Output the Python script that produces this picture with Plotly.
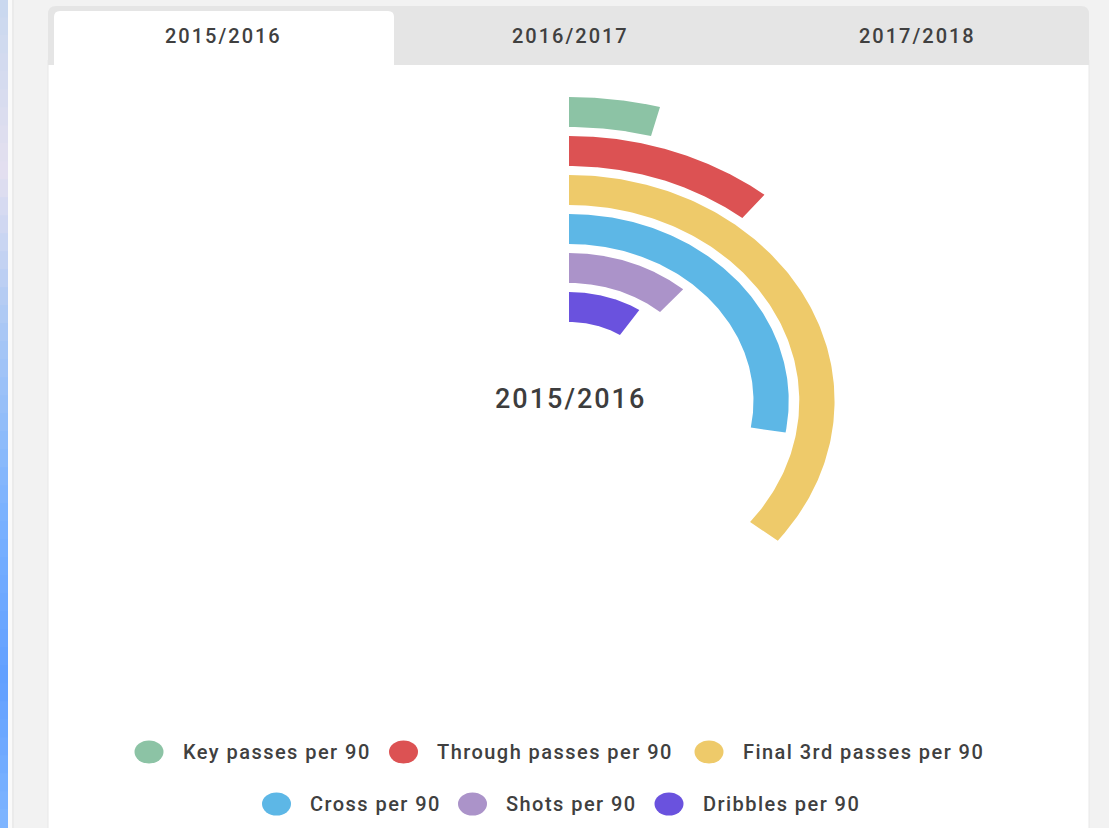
import numpy as np
import plotly.graph_objects as go

W, H = 1109, 828

# ---- data -------------------------------------------------------------
metrics = [
    "Key passes per 90",
    "Through passes per 90",
    "Final 3rd passes per 90",
    "Cross per 90",
    "Shots per 90",
    "Dribbles per 90",
]
# length of each radial bar, as a percentage of a full turn
arc_share = [4.1, 10.8, 35.6, 27.7, 11.4, 9.25]
colors = ["#8cc3a5", "#dc5253", "#eeca6a", "#5db7e6", "#ab93c9", "#6a52de"]
seasons = ["2015/2016", "2016/2017", "2017/2018"]
active_season = "2015/2016"

# ---- geometry / styling -----------------------------------------------
CX, CY = 569, 401          # centre of the rings (px)
X_STRETCH = 1.175          # horizontal stretch of the radial chart
OUTER_R = 304              # outer radius of the first ring (px)
RING_W, RING_STEP = 30, 39
FONT = "Roboto"
TEXT_COL = "#404040"


def spaced(text, px_gap):
    return f"<span style='letter-spacing:{px_gap}px'>{text}</span>"


fig = go.Figure()

for k, (name, share, col) in enumerate(zip(metrics, arc_share, colors)):
    r_out = OUTER_R - k * RING_STEP
    r_in = r_out - RING_W
    end = np.deg2rad(share / 100.0 * 360.0)
    t = np.linspace(0, end, 160)
    xs = np.concatenate([r_out * np.sin(t), r_in * np.sin(t[::-1]), [0]])
    ys = np.concatenate([r_out * np.cos(t), r_in * np.cos(t[::-1]), [r_out]])
    fig.add_trace(go.Scatter(
        x=xs, y=ys, mode="lines", fill="toself", fillcolor=col,
        line=dict(width=0, color=col), name=name, showlegend=False,
        hoveron="fills", hoverinfo="text", text=f"{name}: {share}%",
    ))

# ---- page chrome (pixel helpers) --------------------------------------
def px(x):
    return x / W


def py(y):
    return 1 - y / H


def rounded_top(x0, y0, x1, y1, r):
    rx, ry = r / W, r / H
    a, b, c, d = px(x0), py(y0), px(x1), py(y1)
    return (f"M{a},{d} L{a},{b - ry} Q{a},{b} {a + rx},{b} "
            f"L{c - rx},{b} Q{c},{b} {c},{b - ry} L{c},{d} Z")


shapes = []

# left gradient strip
stops = [(0, (201, 216, 239)), (170, (228, 224, 240)), (330, (170, 200, 245)),
         (520, (122, 178, 255)), (680, (98, 160, 255)), (828, (127, 182, 255))]
ys_s = [s[0] for s in stops]
for i in range(46):
    y0 = i * H / 46
    y1 = (i + 1) * H / 46
    ym = (y0 + y1) / 2
    rgb = [int(np.interp(ym, ys_s, [s[1][c] for s in stops])) for c in range(3)]
    shapes.append(dict(type="rect", xref="paper", yref="paper",
                       x0=px(0), x1=px(8), y0=py(y1), y1=py(y0) + 0.001,
                       fillcolor=f"rgb({rgb[0]},{rgb[1]},{rgb[2]})",
                       line=dict(width=0), layer="below"))
shapes.append(dict(type="rect", xref="paper", yref="paper", x0=px(8), x1=px(12),
                   y0=0, y1=1, fillcolor="#fafafa", line=dict(width=0), layer="below"))
shapes.append(dict(type="rect", xref="paper", yref="paper", x0=px(12), x1=px(14),
                   y0=0, y1=1, fillcolor="#ebebeb", line=dict(width=0), layer="below"))

# card body
shapes.append(dict(type="rect", xref="paper", yref="paper", x0=px(48), x1=px(1089),
                   y0=py(H + 5), y1=py(60), fillcolor="#ffffff",
                   line=dict(width=1, color="#e8e8e8"), layer="below"))
# tab bar
shapes.append(dict(type="path", xref="paper", yref="paper",
                   path=rounded_top(48, 6, 1089, 65, 8),
                   fillcolor="#e5e5e5", line=dict(width=0), layer="below"))
# active tab
tab_w = (1089 - 48) / len(seasons)
ai = seasons.index(active_season)
shapes.append(dict(type="path", xref="paper", yref="paper",
                   path=rounded_top(48 + 6 + ai * tab_w, 11, 48 + (ai + 1) * tab_w - 1, 66, 6),
                   fillcolor="#ffffff", line=dict(width=0), layer="below"))

annotations = []
for i, s in enumerate(seasons):
    annotations.append(dict(
        xref="paper", yref="paper", x=px(48 + (i + 0.5) * tab_w + 2), y=py(36),
        text=spaced(s, 2), showarrow=False, xanchor="center", yanchor="middle",
        font=dict(family=FONT, size=20, color=TEXT_COL, weight=500)))

# centre label
annotations.append(dict(
    xref="paper", yref="paper", x=px(CX + 1), y=py(399), text=spaced(active_season, 2),
    showarrow=False, xanchor="center", yanchor="middle",
    font=dict(family=FONT, size=27, color="#3d3d3d", weight=500)))

# legend (two centred rows)
legend_rows = [(752, [0, 1, 2], [149, 403.5, 709]),
               (804, [3, 4, 5], [276.5, 472.5, 669])]
for ly, idxs, mxs in legend_rows:
    for i, mx in zip(idxs, mxs):
        shapes.append(dict(type="circle", xref="paper", yref="paper",
                           x0=px(mx - 14.5), x1=px(mx + 14.5),
                           y0=py(ly + 11.5), y1=py(ly - 11.5),
                           fillcolor=colors[i], line=dict(width=0)))
        annotations.append(dict(
            xref="paper", yref="paper", x=px(mx + 31.5), y=py(ly), text=spaced(metrics[i], 1.45),
            showarrow=False, xanchor="left", yanchor="middle",
            font=dict(family=FONT, size=20, color=TEXT_COL, weight=500)))

fig.update_layout(
    width=W, height=H,
    margin=dict(l=0, r=0, t=0, b=0),
    paper_bgcolor="#f2f2f2",
    plot_bgcolor="rgba(0,0,0,0)",
    xaxis=dict(range=[-CX / X_STRETCH, (W - CX) / X_STRETCH], visible=False,
               fixedrange=True, domain=[0, 1]),
    yaxis=dict(range=[-(H - CY), CY], visible=False, fixedrange=True, domain=[0, 1]),
    shapes=shapes,
    annotations=annotations,
    showlegend=False,
)

fig.write_html("out.html")
